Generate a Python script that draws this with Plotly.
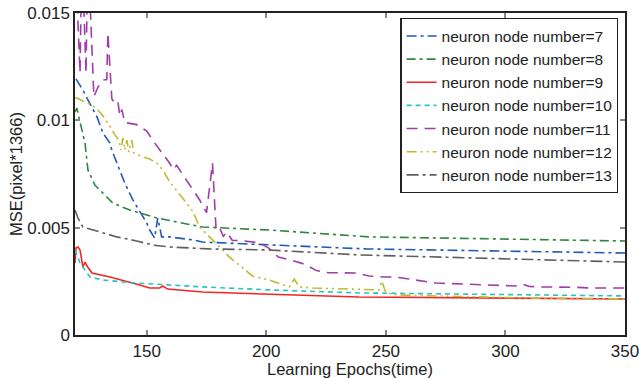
import plotly.graph_objects as go

# ---- data ----
x7 = [120.4, 123.3, 125.4, 129.2, 131.7, 134.6, 135.4, 138.75, 140.8, 144.2, 147.1, 150, 151.25, 153.3, 154.6, 156.25, 159.6, 169.2, 173.3, 201.25, 241.7, 350]
y7 = [0.01193, 0.01141, 0.01095, 0.01016, 0.00941, 0.00894, 0.00862, 0.00769, 0.00708, 0.00629, 0.00573, 0.00522, 0.00489, 0.00452, 0.00545, 0.00457, 0.00457, 0.00443, 0.00433, 0.00419, 0.00401, 0.00382]

x8 = [120, 120.8, 122.1, 124.2, 125.4, 128.3, 130.4, 135.8, 142.9, 147.1, 154.2, 173.3, 201.25, 242.9, 350]
y8 = [0.01039, 0.01057, 0.00992, 0.00894, 0.00769, 0.00699, 0.00675, 0.00615, 0.00582, 0.00568, 0.00545, 0.00503, 0.00489, 0.00457, 0.00438]

x9 = [120, 120.4, 121.25, 122.1, 123.3, 124.2, 125, 127.1, 134.6, 142.9, 147.1, 151.25, 155.4, 156.7, 158.75, 173.3, 201.25, 238.75, 350]
y9 = [0.00335, 0.00405, 0.0041, 0.00396, 0.00317, 0.0034, 0.00321, 0.00289, 0.0027, 0.00247, 0.00233, 0.00219, 0.00219, 0.00228, 0.00214, 0.002, 0.00191, 0.00177, 0.00168]

x10 = [120, 122.1, 126.25, 131.7, 145.8, 159.6, 173.3, 201.25, 238.75, 350]
y10 = [0.00396, 0.00335, 0.0027, 0.00256, 0.00242, 0.00233, 0.00224, 0.0021, 0.00196, 0.00182]

x11 = [120, 122.1, 122.9, 124.6, 125.4, 127.9, 129.6, 131.7, 133.3, 133.75, 135.4, 136.7, 137.9, 138.75, 139.6, 140.8,
       145.8, 150, 153.3, 156.25, 159.6, 161, 162.5, 166.7, 169.2, 172.1, 175, 177.5, 179, 180.4, 182, 183.5, 185.8,
       188.75, 197, 201, 205, 210, 216, 221, 226, 231, 237.5, 243, 249, 254, 271, 276, 282, 288, 294, 298, 305, 307.5, 310,
       315, 319, 326, 330, 336, 342, 350]
y11 = [0.018, 0.01221, 0.018, 0.0122, 0.018, 0.01109, 0.01155, 0.01188, 0.0119, 0.01407, 0.0110, 0.01081, 0.0109, 0.0102, 0.0105, 0.0099,
       0.0098, 0.0095, 0.00895, 0.00848, 0.008, 0.0077, 0.0079, 0.0072, 0.00676, 0.0063, 0.0057, 0.0080, 0.0049, 0.0050, 0.0046, 0.0048, 0.0044,
       0.0044, 0.0043, 0.00405, 0.00363, 0.0035, 0.0033, 0.0030, 0.0029, 0.0029, 0.00289, 0.00275, 0.0027, 0.0027, 0.00242, 0.0024, 0.00238, 0.00236, 0.00233, 0.00232, 0.00228, 0.00236, 0.00226,
       0.00224, 0.00224, 0.00224, 0.00222, 0.00219, 0.00219, 0.00219]

x12 = [120, 120.8, 123.3, 126.25, 129.2, 131.7, 134.6, 136.7, 138.3, 139.2, 140, 140.8, 141.7, 142.5, 143.75, 144.6,
       148.3, 151.25, 154.2, 156.7, 159.6, 162.5, 165, 169.2, 172.1, 177.5, 184.6, 194.2, 201.25, 209.6, 211.7, 213.75,
       219.2, 247.1, 248.3, 250, 255.4, 310.8, 350]
y12 = [0.01104, 0.01104, 0.0109, 0.01076, 0.01053, 0.0102, 0.00973, 0.00932, 0.00908, 0.00862, 0.00918, 0.00862, 0.00908, 0.00852, 0.00908, 0.00848,
       0.00829, 0.0082, 0.00801, 0.00769, 0.00713, 0.00675, 0.00638, 0.00578, 0.00503, 0.00443, 0.00363, 0.00275, 0.00256, 0.00224, 0.00261, 0.00224,
       0.00219, 0.0021, 0.00252, 0.00196, 0.00186, 0.00172, 0.00168]

x13 = [120, 121.25, 123.3, 130.4, 137.5, 145.8, 152.5, 159.6, 176.25, 201.25, 238.75, 350]
y13 = [0.00582, 0.00545, 0.00503, 0.0048, 0.00457, 0.00438, 0.00419, 0.0041, 0.00401, 0.00396, 0.00373, 0.0034]

names = ["neuron node number=7", "neuron node number=8", "neuron node number=9",
         "neuron node number=10", "neuron node number=11", "neuron node number=12",
         "neuron node number=13"]

xticks = [150, 200, 250, 300, 350]
yticks = [0, 0.005, 0.01, 0.015]
yticklabels = ["0", "0.005", "0.01", "0.015"]

series = [
    (x7, y7, "#2159b8", "10px,4px,3px,4px"),
    (x8, y8, "#2e8640", "9px,4px,3px,4px"),
    (x9, y9, "#f52525", "solid"),
    (x10, y10, "#28c2c2", "5px,4px"),
    (x11, y11, "#9d3fa6", "11px,7px"),
    (x12, y12, "#bcbc32", "10px,4px,2px,4px,2px,4px"),
    (x13, y13, "#5f5f5f", "12px,4px,3px,4px"),
]

fig = go.Figure()
for (xs, ys, col, dash), nm in zip(series, names):
    fig.add_trace(go.Scatter(x=xs, y=ys, mode="lines", name=nm,
                             line=dict(color=col, width=1.6, dash=dash)))

fam = "Liberation Sans, Arial, sans-serif"
tickfont = dict(family=fam, size=17, color="#222222")
titlefont = dict(family=fam, size=16.5, color="#222222")

fig.update_layout(
    width=639, height=378,
    margin=dict(l=75, r=14, t=13, b=43, autoexpand=False),
    paper_bgcolor="white", plot_bgcolor="white",
    font=dict(family=fam, size=16, color="#222222"),
    showlegend=True,
    legend=dict(x=0.988, y=0.984, xanchor="right", yanchor="top",
                bgcolor="white", bordercolor="#222222", borderwidth=1.2,
                font=dict(family=fam, size=15.5, color="#222222"),
                tracegroupgap=0, itemwidth=30),
)
fig.update_xaxes(range=[120, 350], tickvals=xticks, ticktext=[str(v) for v in xticks],
                 tickfont=tickfont, automargin=True, ticklabeloverflow="allow",
                 ticks="inside", ticklen=5, tickcolor="#888888", tickwidth=1.5,
                 showline=True, linecolor="#222222", linewidth=1.5, mirror="ticks",
                 showgrid=False, zeroline=False,
                 title=dict(text="Learning Epochs(time)", font=titlefont, standoff=2))
fig.update_yaxes(range=[0, 0.015], tickvals=yticks, ticktext=yticklabels,
                 tickfont=tickfont, automargin=True, ticklabeloverflow="allow",
                 ticks="inside", ticklen=5, tickcolor="#888888", tickwidth=1.5,
                 showline=True, linecolor="#222222", linewidth=1.5, mirror="ticks",
                 showgrid=False, zeroline=False,
                 title=dict(text="MSE(pixel*1366)", font=titlefont, standoff=1))

fig.write_html("out.html", config={"displayModeBar": False},
               post_script="document.body.style.margin='0';document.body.style.overflow='hidden';")
